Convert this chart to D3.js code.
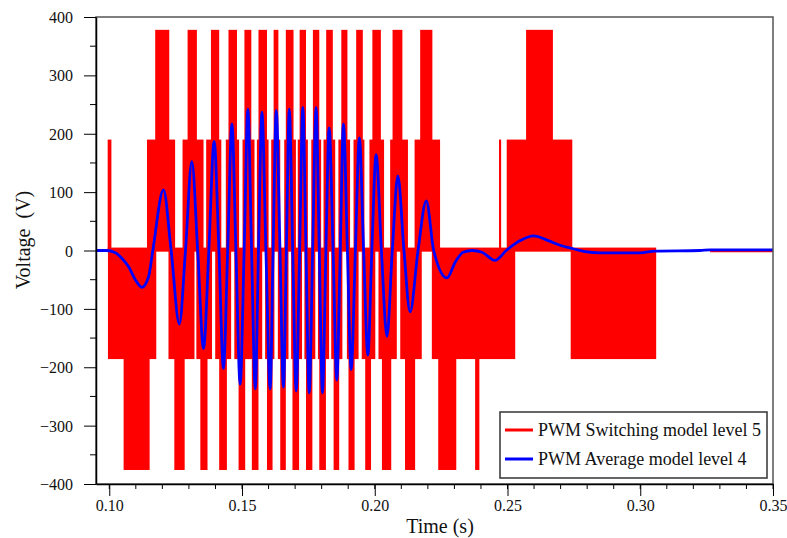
<!DOCTYPE html>
<html><head><meta charset="utf-8">
<script src="https://cdn.jsdelivr.net/npm/d3@7"></script>
<style>
html,body{margin:0;padding:0;background:#fff;}
svg{display:block;font-family:"Liberation Serif","Times New Roman",serif;}
</style></head>
<body>
<script>
// ---- data ----
const xTicks = [0.10, 0.15, 0.20, 0.25, 0.30, 0.35];
const yTicks = [-400, -300, -200, -100, 0, 100, 200, 300, 400];

// PWM switching model level 5: switching envelopes [tStart, tEnd]
const levelPos1 = 190, levelPos2 = 378, levelNeg1 = -186, levelNeg2 = -376;
const bandPosLow = [ // 0 .. +190
  [0.0994,0.1008],[0.1142,0.1248],[0.1276,0.1355],[0.1365,0.1422],[0.1439,0.1489],
  [0.1502,0.1547],[0.1556,0.1600],[0.1610,0.1644],[0.1659,0.1703],[0.1710,0.1748],
  [0.1761,0.1798],[0.1807,0.1851],[0.1863,0.1907],[0.1920,0.1961],[0.1980,0.2035],
  [0.2058,0.2125],[0.2150,0.2246],[0.2468,0.2476],[0.2497,0.2744]
];
const bandPosHigh = [ // +190 .. +378
  [0.1173,0.1226],[0.1295,0.1330],[0.1383,0.1414],[0.1449,0.1481],[0.1509,0.1535],
  [0.1562,0.1594],[0.1619,0.1637],[0.1665,0.1694],[0.1717,0.1741],[0.1767,0.1791],
  [0.1817,0.1842],[0.1874,0.1897],[0.1930,0.1955],[0.1991,0.2023],[0.2067,0.2104],
  [0.2171,0.2217],[0.2570,0.2671]
];
const bandNegLow = [ // 0 .. -186
  [0.0995,0.1177],[0.1223,0.1321],[0.1328,0.1387],[0.1399,0.1459],[0.1471,0.1527],
  [0.1523,0.1576],[0.1587,0.1622],[0.1635,0.1675],[0.1685,0.1726],[0.1735,0.1776],
  [0.1786,0.1828],[0.1836,0.1878],[0.1895,0.1939],[0.1951,0.2002],[0.2014,0.2083],
  [0.2096,0.2177],[0.2215,0.2529],[0.2738,0.3060]
];
const bandNegHigh = [ // -186 .. -376
  [0.1054,0.1152],[0.1245,0.1284],[0.1343,0.1370],[0.1414,0.1443],[0.1487,0.1512],
  [0.1537,0.1562],[0.1594,0.1615],[0.1644,0.1665],[0.1690,0.1715],[0.1741,0.1765],
  [0.1791,0.1816],[0.1845,0.1866],[0.1901,0.1924],[0.1964,0.1986],[0.2027,0.2062],
  [0.2114,0.2152],[0.2239,0.2307],[0.2378,0.2394]
];
const bandZero = [[0.0994,0.3060,-2,5],[0.3263,0.35,-3,1]]; // near-zero ripple [t0,t1,lo,hi]

// PWM average model level 4
const avgT = [0.0951,0.0989,0.1023,0.1049,0.1073,0.1098,0.1123,0.1148,0.1164,0.1204,0.1233,0.1264,0.1287,0.1311,0.1333,0.1355,0.1375,0.1395,0.1413,0.1430,0.1446,0.1462,0.1477,0.1493,0.1508,0.1522,0.1536,0.1550,0.1562,0.1575,0.1590,0.1606,0.1617,0.1629,0.1643,0.1656,0.1667,0.1678,0.1691,0.1704,0.1717,0.1729,0.1741,0.1753,0.1766,0.1779,0.1791,0.1803,0.1816,0.1828,0.1843,0.1857,0.1870,0.1882,0.1897,0.1911,0.1927,0.1942,0.1958,0.1974,0.1989,0.2005,0.2025,0.2046,0.2066,0.2087,0.2110,0.2133,0.2163,0.2194,0.2222,0.2272,0.2303,0.2333,0.2367,0.2404,0.2453,0.2495,0.2548,0.2598,0.2653,0.2698,0.2747,0.2792,0.2849,0.2999,0.3056,0.3225,0.3263,0.3500];
const avgV = [0,0,-4,-14,-28,-50,-63,-45,0,104,0,-126,0,152,0,-168,0,187,0,-202,0,217,0,-229,0,242,0,-237,0,237,0,-237,0,240,0,-234,0,242,0,-241,0,245,0,-244,0,245,0,-244,0,210,0,-222,0,217,0,-204,0,193,0,-179,0,164,0,-147,0,128,0,-105,0,85,0,-47,-20,-3,0,-3,-17,0,17,25,17,9,3,-2,-4,-4,-1,0,1,1];

const legendLabels = ["PWM Switching model level 5", "PWM Average model level 4"];
const colors = ["#ff0000", "#0000ff"];

// ---- chart ----
const W = 787, H = 538;
const L = 96, R = 773, T = 17, B = 484;
const svg = d3.select("body").append("svg").attr("width", W).attr("height", H);
const x = d3.scaleLinear().domain([0.095, 0.35]).range([L, R]);
const y = d3.scaleLinear().domain([-400, 400]).range([B, T]);

svg.append("clipPath").attr("id","clip").append("rect")
  .attr("x", L).attr("y", T).attr("width", R-L).attr("height", B-T);
const plot = svg.append("g").attr("clip-path","url(#clip)");

function bands(data, lo, hi) {
  plot.append("g").selectAll("rect").data(data).join("rect")
    .attr("x", d => x(d[0]))
    .attr("width", d => Math.max(1, x(d[1]) - x(d[0])))
    .attr("y", y(hi))
    .attr("height", y(lo) - y(hi))
    .attr("fill", colors[0]);
}
bands(bandPosLow, 0, levelPos1);
bands(bandPosHigh, levelPos1 - 1, levelPos2);
bands(bandNegLow, levelNeg1, 0);
bands(bandNegHigh, levelNeg2, levelNeg1 + 1);
plot.append("g").selectAll("rect").data(bandZero).join("rect")
  .attr("x", d => x(d[0])).attr("width", d => x(d[1]) - x(d[0]))
  .attr("y", d => y(d[3])).attr("height", d => y(d[2]) - y(d[3]))
  .attr("fill", colors[0]);

const avg = avgT.map((t, i) => [t, avgV[i]]);
plot.append("path").datum(avg)
  .attr("fill","none").attr("stroke", colors[1]).attr("stroke-width", 2.8)
  .attr("stroke-linejoin","round")
  .attr("d", d3.line().x(d => x(d[0])).y(d => y(d[1])).curve(d3.curveMonotoneX));

// frame
svg.append("rect").attr("x", L).attr("y", T).attr("width", R-L).attr("height", B-T)
  .attr("fill","none").attr("stroke","#555").attr("stroke-width",1.5);

// axes
const xMinor = d3.range(0.10, 0.3501, 0.01);
const yMinor = d3.range(-350, 400, 100);
const gx = svg.append("g").attr("transform", `translate(0,${B})`);
gx.call(d3.axisBottom(x).tickValues(xTicks).tickFormat(d3.format(".2f")).tickSize(12).tickSizeOuter(0));
gx.append("g").selectAll("line").data(xMinor).join("line")
  .attr("x1", d => x(d)).attr("x2", d => x(d)).attr("y1", 0).attr("y2", 5).attr("stroke","#000");
const gy = svg.append("g").attr("transform", `translate(${L},0)`);
gy.call(d3.axisLeft(y).tickValues(yTicks).tickSize(12).tickSizeOuter(0));
gy.append("g").selectAll("line").data(yMinor).join("line")
  .attr("y1", d => y(d)).attr("y2", d => y(d)).attr("x1", 0).attr("x2", -6).attr("stroke","#000");
[gx, gy].forEach(g => {
  g.select(".domain").attr("stroke","#000").attr("stroke-width",1.5);
  g.selectAll(".tick line").attr("stroke","#000");
  g.selectAll("text").attr("font-family","Liberation Serif").attr("font-size",16).attr("fill","#111");
});
gx.selectAll(".tick text").attr("dy", null).attr("y", 27);
gy.selectAll(".tick text").attr("x", -23).attr("dy","0.35em");

svg.append("text").attr("x", 440).attr("y", 533).attr("text-anchor","middle")
  .attr("font-size", 20).attr("fill","#111").text("Time (s)");
svg.append("text").attr("transform","translate(30,240) rotate(-90)").attr("text-anchor","middle")
  .attr("font-size", 20).attr("fill","#111").attr("xml:space","preserve").style("white-space","pre")
  .text("Voltage  (V)");

// legend
const lg = svg.append("g");
lg.append("rect").attr("x", 500).attr("y", 412).attr("width", 267).attr("height", 66)
  .attr("fill","#fff").attr("stroke","#333").attr("stroke-width",1.5);
legendLabels.forEach((lab, i) => {
  const yy = 430 + i * 29;
  lg.append("line").attr("x1", 505).attr("x2", 533).attr("y1", yy).attr("y2", yy)
    .attr("stroke", colors[i]).attr("stroke-width", 3);
  lg.append("text").attr("x", 538).attr("y", yy + 6).attr("font-size", 18).attr("fill","#111").text(lab);
});
</script>
</body></html>
